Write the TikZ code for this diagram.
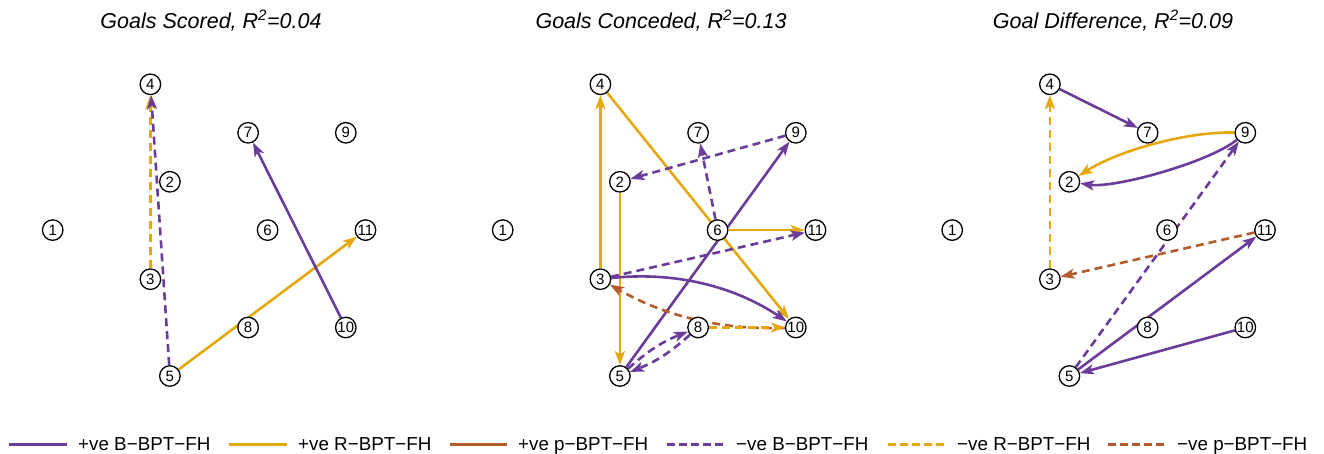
\documentclass[tikz,border=0pt]{standalone}
\usepackage{fontspec}
\setmainfont{Liberation Sans}
\usetikzlibrary{arrows.meta}
\definecolor{cB}{HTML}{6A3D9A}
\definecolor{cR}{HTML}{E6A80F}
\definecolor{cP}{HTML}{B45C2C}
\pgfdeclarelayer{bg}
\pgfsetlayers{bg,main}
\tikzset{
  vtx/.style={circle, draw=black, line width=1.3pt, fill=white, minimum size=20.5pt,
    inner sep=0pt, font=\fontsize{15}{16}\selectfont},
  edge/.style={line width=2.6pt, -{Stealth[length=14pt,width=10pt,inset=3.5pt]}},
  dsh/.style={dash pattern=on 8pt off 5pt},
  sB/.style={edge, draw=cB},
  sR/.style={edge, draw=cR},
  sP/.style={edge, draw=cP},
  dB/.style={edge, dsh, draw=cB},
  dR/.style={edge, dsh, draw=cR},
  dP/.style={edge, dsh, draw=cP},
  legline/.style={line width=3pt},
  legdash/.style={line width=3pt, dash pattern=on 8pt off 4pt},
  legtext/.style={anchor=base west, inner sep=0pt, font=\fontsize{18.8}{20}\selectfont},
  ttl/.style={anchor=base, inner sep=0pt, font=\fontsize{21.5}{24}\selectfont\itshape}
}
\newcommand{\panelnodes}[2]{%
  \begin{scope}[xshift=#2pt]
    \node[vtx] (#11)  at (52.7,-230.1) {1};
    \node[vtx] (#12)  at (169.9,-181.8) {2};
    \node[vtx] (#13)  at (150.4,-279.2) {3};
    \node[vtx] (#14)  at (150.4,-84.3) {4};
    \node[vtx] (#15)  at (169.9,-376.0) {5};
    \node[vtx] (#16)  at (267.6,-230.1) {6};
    \node[vtx] (#17)  at (248.1,-132.8) {7};
    \node[vtx] (#18)  at (248.1,-327.5) {8};
    \node[vtx] (#19)  at (345.8,-132.8) {9};
    \node[vtx] (#110) at (345.8,-327.5) {10};
    \node[vtx] (#111) at (365.5,-230.1) {11};
  \end{scope}}
\begin{document}
\begin{tikzpicture}[x=1pt,y=1pt]
\useasboundingbox (0,0) rectangle (1324,-454);
% titles
\node[ttl] (t1) at (211,-28.5) {Goals Scored, R\textsuperscript{2}=0.04};
\node[ttl] (t2) at (661,-28.5) {Goals Conceded, R\textsuperscript{2}=0.13};
\node[ttl] (t3) at (1113,-28.5) {Goal Difference, R\textsuperscript{2}=0.09};
% nodes
\panelnodes{a}{0}
\panelnodes{b}{450}
\panelnodes{c}{899.5}
\begin{pgfonlayer}{bg}
% panel 1: Goals Scored
\draw[dR] (a3) -- (a4);
\draw[dB] (a5) -- (a4);
\draw[sR] (a5) -- (a11);
\draw[sB] (a10) -- (a7);
% panel 2: Goals Conceded
\draw[sR] (b3) -- (b4);
\draw[sR] (b4) -- (b10);
\draw[sR] (b2) -- (b5);
\draw[sR] (b6) -- (b11);
\draw[dB] (b9) -- (b2);
\draw[dB] (b6) -- (b7);
\draw[sB] (b5) -- (b9);
\draw[dB] (b3) -- (b11);
\draw[sB] (b3) to[bend left=20, looseness=0.9] (b10);
\draw[dP] (b10) to[bend left=16, looseness=0.9] (b3);
\draw[dR] (b8) -- (b10);
\draw[dB] (b5) to[bend left=10] (b8);
\draw[dB] (b8) to[bend left=10] (b5);
% panel 3: Goal Difference
\draw[dR] (c3) -- (c4);
\draw[sB] (c4) -- (c7);
\draw[sR] (c9) to[bend right=17, looseness=0.75] (c2);
\draw[sB] (c9) to[bend left=24, looseness=0.55] (c2);
\draw[dB] (c5) -- (c9);
\draw[dP] (c11) -- (c3);
\draw[sB] (c5) -- (c11);
\draw[sB] (c10) -- (c5);
\end{pgfonlayer}
% legend
\coordinate (l1a) at (9,-444);    \coordinate (l1b) at (67,-444);
\coordinate (l2a) at (229,-444);  \coordinate (l2b) at (287,-444);
\coordinate (l3a) at (450,-444);  \coordinate (l3b) at (507,-444);
\coordinate (l4a) at (667,-444);  \coordinate (l4b) at (723,-444);
\coordinate (l5a) at (888,-444);  \coordinate (l5b) at (945,-444);
\coordinate (l6a) at (1108,-444); \coordinate (l6b) at (1165,-444);
\draw[legline, cB] (l1a) -- (l1b);
\draw[legline, cR] (l2a) -- (l2b);
\draw[legline, cP] (l3a) -- (l3b);
\draw[legdash, cB] (l4a) -- (l4b);
\draw[legdash, cR] (l5a) -- (l5b);
\draw[legdash, cP] (l6a) -- (l6b);
\node[legtext] (g1) at (78,-450.5) {+ve B−BPT−FH};
\node[legtext] (g2) at (298,-450.5) {+ve R−BPT−FH};
\node[legtext] (g3) at (518,-450.5) {+ve p−BPT−FH};
\node[legtext] (g4) at (736,-450.5) {−ve B−BPT−FH};
\node[legtext] (g5) at (957,-450.5) {−ve R−BPT−FH};
\node[legtext] (g6) at (1177,-450.5) {−ve p−BPT−FH};
\end{tikzpicture}
\end{document}
